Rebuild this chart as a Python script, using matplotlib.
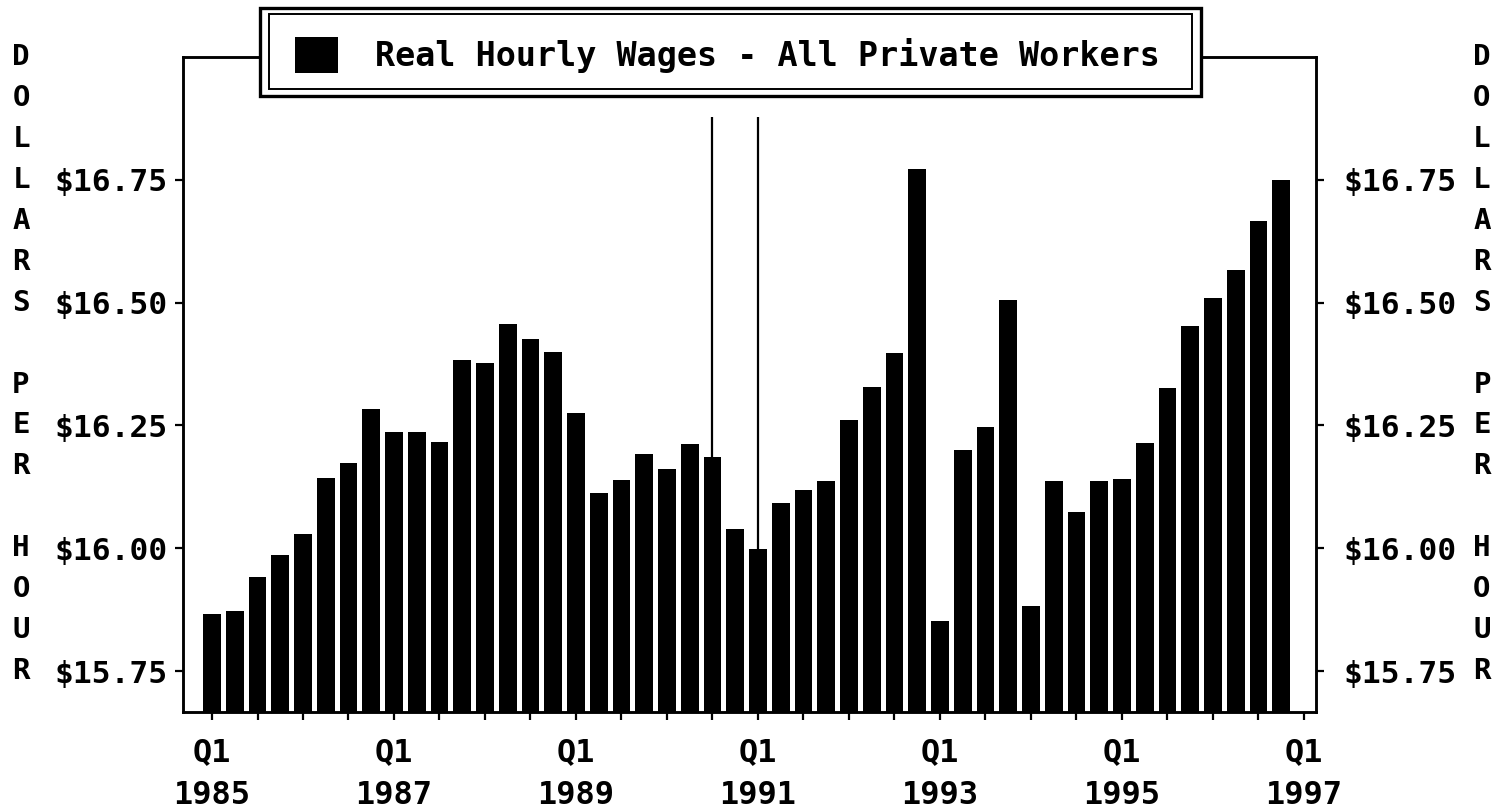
import matplotlib
matplotlib.use("Agg")
import matplotlib.pyplot as plt
from matplotlib.patches import Rectangle

# ---- data ----
years = list(range(1985, 1997))
quarters = [f"Q{q} {y}" for y in years for q in (1, 2, 3, 4)]
wages = [15.866, 15.872, 15.941, 15.987,
         16.029, 16.143, 16.174, 16.284,
         16.236, 16.236, 16.216, 16.383,
         16.377, 16.456, 16.425, 16.399,
         16.275, 16.112, 16.139, 16.192,
         16.161, 16.213, 16.186, 16.040,
         15.999, 16.093, 16.119, 16.136,
         16.261, 16.329, 16.398, 16.773,
         15.852, 16.199, 16.246, 16.506,
         15.883, 16.136, 16.074, 16.136,
         16.141, 16.214, 16.327, 16.453,
         16.509, 16.567, 16.666, 16.750]
series_label = "Real Hourly Wages - All Private Workers"
y_ticks = [15.75, 16.00, 16.25, 16.50, 16.75]
y_tick_labels = ["$15.75", "$16.00", "$16.25", "$16.50", "$16.75"]
x_label_years = [1985, 1987, 1989, 1991, 1993, 1995, 1997]
recession_marks = ["Q3 1990", "Q1 1991"]
axis_title = "DOLLARS PER HOUR"

W, H = 1506, 809
FONT = dict(family="DejaVu Sans Mono", weight="bold")

fig = plt.figure(figsize=(W / 100, H / 100), dpi=100)
fig.patch.set_facecolor("white")

L, R, T, B = 183, 1316, 57, 712
ax = fig.add_axes([L / W, 1 - B / H, (R - L) / W, (B - T) / H])

x = list(range(len(wages)))
ymin, ymax = 15.75 - 0.25 / 3, 17.0
bars = ax.bar(x, [w - ymin for w in wages], bottom=ymin, width=0.78,
              color="black", edgecolor="black", linewidth=0,
              label=series_label, zorder=3)

# recession markers
for q in recession_marks:
    xi = quarters.index(q)
    ax.plot([xi, xi], [ymin, 16.878], color="black", lw=1.6, zorder=2,
            solid_capstyle="butt")

ax.set_xlim(-1.275, 48.53)
ax.set_ylim(ymin, ymax)

# x ticks every two quarters, labels every two years
ax.set_xticks(list(range(0, 49, 2)))
lab = []
for i in range(0, 49, 2):
    if i % 8 == 0:
        lab.append(f"Q1\n{x_label_years[i // 8]}")
    else:
        lab.append("")
ax.set_xticklabels(lab, fontsize=23, linespacing=1.5, **FONT)
ax.tick_params(axis="x", direction="out", length=6, width=1.6, pad=12)

ax.set_yticks(y_ticks)
ax.set_yticklabels(y_tick_labels, fontsize=22.5, **FONT)
ax.tick_params(axis="y", direction="out", length=6, width=1.6, pad=5)

ax2 = ax.twinx()
ax2.set_ylim(ymin, ymax)
ax2.set_yticks(y_ticks)
ax2.set_yticklabels(y_tick_labels, fontsize=22.5, **FONT)
ax2.tick_params(axis="y", direction="out", length=6, width=1.6, pad=14)

for a in (ax, ax2):
    for s in a.spines.values():
        s.set_linewidth(1.8)
        s.set_color("black")

# vertical axis titles, letter by letter
for j, ch in enumerate(axis_title):
    yv = ymax - j * (0.25 / 3)
    if ch == " ":
        continue
    ax.text((21 - L) / (R - L), yv, ch, transform=ax.get_yaxis_transform(),
            ha="center", va="center", fontsize=21, clip_on=False, **FONT)
    ax.text((1482 - L) / (R - L), yv, ch, transform=ax.get_yaxis_transform(),
            ha="center", va="center", fontsize=21, clip_on=False, **FONT)

# legend double frame
def frect(x0, y0, x1, y1, lw):
    r = Rectangle((x0 / W, 1 - y1 / H), (x1 - x0) / W, (y1 - y0) / H,
                  transform=fig.transFigure, facecolor="white",
                  edgecolor="black", linewidth=lw, zorder=3)
    fig.add_artist(r)

frect(260, 7.5, 1201, 95.5, 2.4)
r2 = Rectangle((269 / W, 1 - 89 / H), (1192 - 269) / W, (89 - 14) / H,
               transform=fig.transFigure, facecolor="none",
               edgecolor="black", linewidth=1.4, zorder=4)
fig.add_artist(r2)

leg = fig.legend(handles=[bars], labels=[series_label],
                 loc="center left", bbox_to_anchor=(295 / W, 1 - 55 / H),
                 bbox_transform=fig.transFigure, frameon=False,
                 borderpad=0, borderaxespad=0, handlelength=1.3,
                 handleheight=1.26, handletextpad=1.1,
                 prop=dict(family="DejaVu Sans Mono", weight="bold", size=24))
leg.set_zorder(6)

fig.savefig("out.png", dpi=100, facecolor="white")
